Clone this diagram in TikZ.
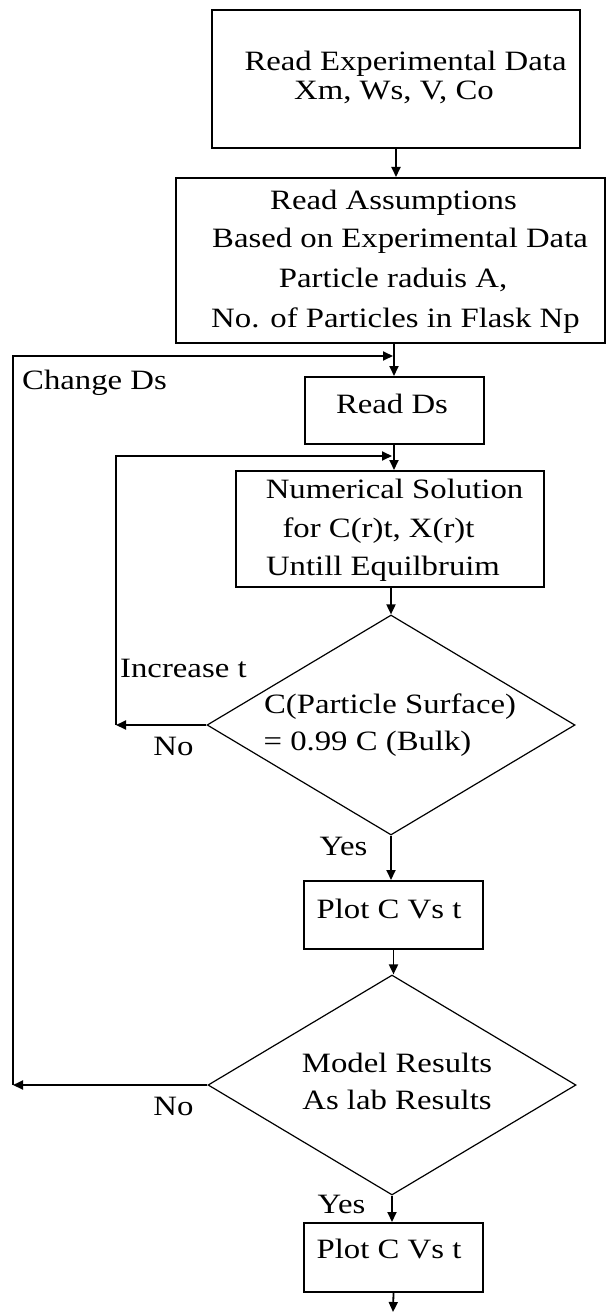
\documentclass[tikz,border=0pt]{standalone}
\usepackage{fontspec}
\setmainfont{Liberation Serif}[FakeStretch=1.17]
\usetikzlibrary{arrows.meta,shapes.geometric}
\begin{document}
\begin{tikzpicture}[x=1pt,y=-1pt,
  box/.style={draw, line width=2pt, rectangle, inner sep=0pt},
  dia/.style={draw, line width=1.2pt, diamond, inner sep=0pt, minimum width=368pt, minimum height=220pt},
  txt/.style={inner sep=0pt, anchor=base, font=\fontsize{28}{30}\selectfont},
  txtl/.style={txt, anchor=base west},
  conn/.style={line width=1.8pt, -{Triangle[length=10pt,width=9pt]}},
  wire/.style={line width=1.8pt}]
\useasboundingbox (0,0) rectangle (606,1313);
% boxes
\node[box, minimum width=368pt, minimum height=138pt] (b1) at (396,79) {};
\node[box, minimum width=429pt, minimum height=165pt] (b2) at (390.5,260.5) {};
\node[box, minimum width=179pt, minimum height=67pt] (rds) at (394,410.5) {};
\node[box, minimum width=308pt, minimum height=116pt] (b3) at (390,529) {};
\node[dia] (d1) at (391,725) {};
\node[box, minimum width=179pt, minimum height=68pt] (p1) at (393.5,915) {};
\node[dia] (d2) at (392,1085) {};
\node[box, minimum width=179pt, minimum height=69pt] (p2) at (393.5,1257.5) {};
% helper coordinates
\coordinate (j1) at (393,356);
\coordinate (j2) at (392,456);
\coordinate (l1) at (13,356);
\coordinate (l2) at (116,456);
\coordinate (end) at (393,1312);
% texts
\node[txt] (t1a) at (405.5,71) {Read Experimental Data};
\node[txt] (t1b) at (394,100) {Xm, Ws, V, Co};
\node[txt] (t2a) at (393.5,210) {Read Assumptions};
\node[txt] (t2b) at (400,248) {Based on Experimental Data};
\node[txt] (t2c) at (393,288) {Particle raduis A,};
\node[txt] (t2d) at (395.5,327) {No. of Particles in Flask Np};
\node[txtl] (tcd) at (22,389) {Change Ds};
\node[txt] (trd) at (392,413) {Read Ds};
\node[txt] (t3a) at (394.5,498) {Numerical Solution};
\node[txt] (t3b) at (378.5,537) {for C(r)t, X(r)t};
\node[txt] (t3c) at (383,575) {Untill Equilbruim};
\node[txtl] (tinc) at (120,677) {Increase t};
\node[txt] (td1a) at (390,713) {C(Particle Surface)};
\node[txt] (td1b) at (367.5,750) {= 0.99 C (Bulk)};
\node[txt] (tno1) at (173.5,755) {No};
\node[txt] (tyes1) at (343.5,855) {Yes};
\node[txt] (tp1) at (389,918) {Plot C Vs t};
\node[txt] (td2a) at (397,1072) {Model Results};
\node[txt] (td2b) at (397,1109) {As lab Results};
\node[txt] (tno2) at (173.5,1115) {No};
\node[txt] (tyes2) at (341.5,1213) {Yes};
\node[txt] (tp2) at (389,1258) {Plot C Vs t};
% connectors
\draw[conn] (b1.south) -- (b1.south |- b2.north);
\draw[conn] (rds.north |- b2.south) -- (rds.north);
\draw[conn] (rds.south) -- (rds.south |- b3.north);
\draw[conn] (d1.north |- b3.south) -- (d1.north);
\draw[conn] (d1.south) -- (d1.south |- p1.north);
\draw[conn] (p1.south) -- (p1.south |- d2.north);
\draw[conn] (d2.south) -- (d2.south |- p2.north);
\draw[conn] (p2.south) -- (end);
% loops
\draw[conn] (d1.west) -- (l2 |- d1.west);
\draw[conn] (l2 |- d1.west) -- (l2) -- (j2);
\draw[conn] (d2.west) -- (l1 |- d2.west);
\draw[conn] (l1 |- d2.west) -- (l1) -- (j1);
\end{tikzpicture}
\end{document}
